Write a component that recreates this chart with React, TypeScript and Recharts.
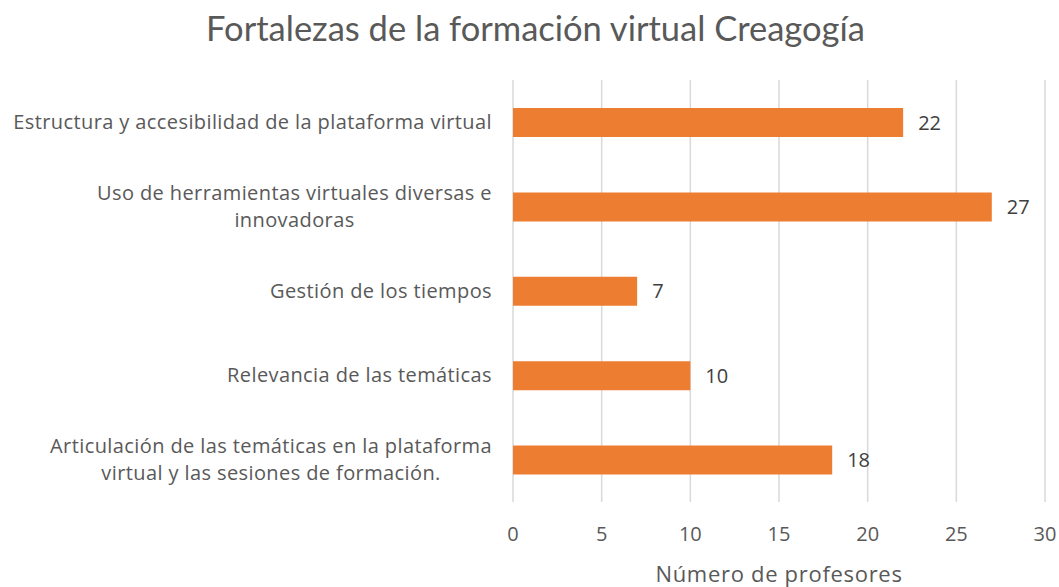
import { BarChart, Bar, XAxis, YAxis, CartesianGrid, LabelList } from 'recharts'

const categorias = [
  ['Estructura y accesibilidad de la plataforma virtual'],
  ['Uso de herramientas virtuales diversas e', 'innovadoras'],
  ['Gestión de los tiempos'],
  ['Relevancia de las temáticas'],
  ['Articulación de las temáticas en la plataforma', 'virtual y las sesiones de formación.'],
]
const profesores = [22, 27, 7, 10, 18]
const ticksX = [0, 5, 10, 15, 20, 25, 30]

const FONT = '"Open Sans", sans-serif'
const FONT_TITULO = 'Lato, sans-serif'
const ESPACIADO = 0.4

const data = categorias.map((lineas, i) => ({
  categoria: lineas.join(' '),
  lineas,
  profesores: profesores[i],
}))

let ctx: CanvasRenderingContext2D | null = null
function medir(texto: string, size: number) {
  if (!ctx) ctx = document.createElement('canvas').getContext('2d')
  if (!ctx) return texto.length * size * 0.55
  ctx.font = `${size}px "Open Sans"`
  return ctx.measureText(texto).width + texto.length * ESPACIADO
}

function TickCategoria(props: any) {
  const { x, y, payload } = props
  const item = data.find((d) => d.categoria === payload.value)
  const lineas = item ? item.lineas : [payload.value]
  const size = 20
  const ancho = Math.max(...lineas.map((l) => medir(l, size)))
  const cx = x - ancho / 2
  const alto = 27
  const y0 = y - ((lineas.length - 1) * alto) / 2
  return (
    <text textAnchor="middle" fill="#595959" fontSize={size} fontFamily={FONT} letterSpacing={ESPACIADO}>
      {lineas.map((l, i) => (
        <tspan key={i} x={cx} y={y0 + i * alto} dy="0.35em">
          {l}
        </tspan>
      ))}
    </text>
  )
}

export default function App() {
  return (
    <div style={{ position: 'absolute', left: 0, top: 0, width: 1059, height: 587, background: '#fff' }}>
      <div
        style={{
          position: 'absolute',
          top: 7,
          left: 6,
          width: 1059,
          textAlign: 'center',
          fontFamily: FONT_TITULO,
          fontSize: 34.5,
          lineHeight: '42px',
          color: '#595959',
        }}
      >
        Fortalezas de la formación virtual Creagogía
      </div>
      <BarChart
        width={1059}
        height={587}
        data={data}
        layout="vertical"
        margin={{ top: 80, right: 14, bottom: 0, left: 0 }}
        barCategoryGap={0}
      >
        <CartesianGrid horizontal={false} stroke="#d9d9d9" strokeWidth={1.5} />
        <XAxis
          type="number"
          domain={[0, 30]}
          ticks={ticksX}
          height={85}
          axisLine={false}
          tickLine={false}
          tickSize={0}
          tickMargin={25}
          tick={{ fill: '#595959', fontSize: 20, fontFamily: FONT }}
          label={{
            value: 'Número de profesores',
            position: 'insideBottom',
            offset: 5,
            fill: '#595959',
            fontSize: 22,
            fontFamily: FONT,
            letterSpacing: 0.7,
          }}
        />
        <YAxis
          type="category"
          dataKey="categoria"
          width={513}
          axisLine={false}
          tickLine={false}
          tickSize={0}
          tickMargin={21}
          tick={<TickCategoria />}
          interval={0}
        />
        <Bar dataKey="profesores" fill="#ED7D31" barSize={29} isAnimationActive={false}>
          <LabelList
            dataKey="profesores"
            position="right"
            offset={15}
            fill="#404040"
            fontSize={20}
            fontFamily={FONT}
          />
        </Bar>
      </BarChart>
    </div>
  )
}
